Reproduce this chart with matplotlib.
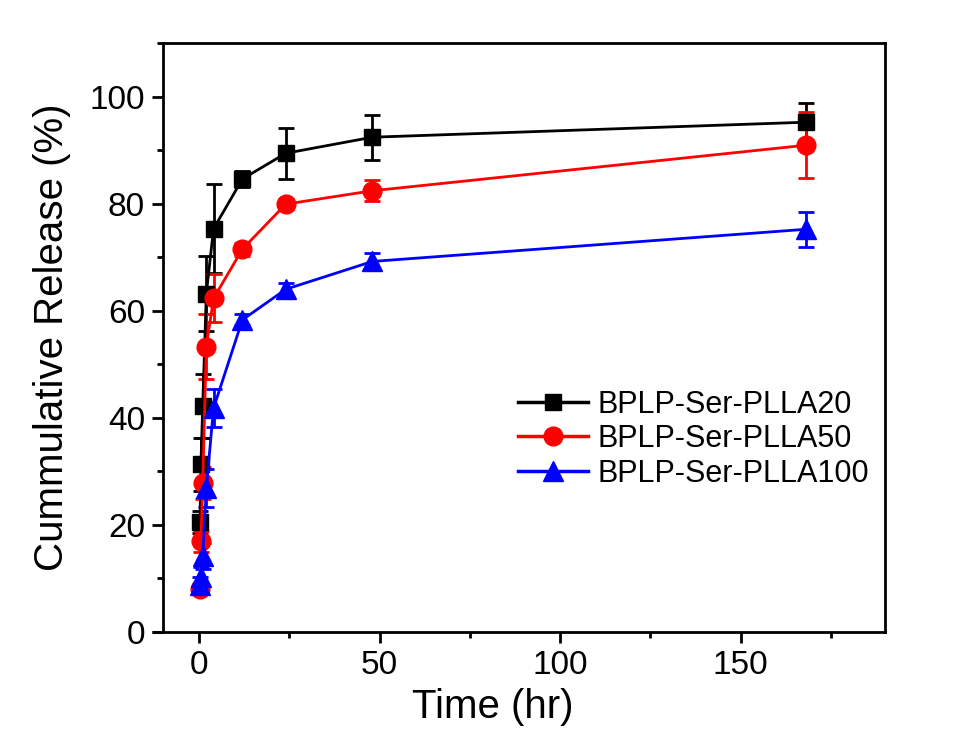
import matplotlib
matplotlib.use("Agg")
import matplotlib.pyplot as plt
from matplotlib.ticker import MultipleLocator
from matplotlib.lines import Line2D

plt.rcParams['font.family'] = ['Liberation Sans', 'DejaVu Sans']

time_hr = [0.25, 0.5, 1, 2, 4, 12, 24, 48, 168]

plla20 = [20.5, 31.3, 42.2, 63.2, 75.3, 84.6, 89.4, 92.4, 95.2]
plla20_err = [2.0, 5.0, 6.0, 7.0, 8.3, 1.5, 4.8, 4.2, 3.6]

plla50 = [8.0, 16.9, 27.8, 53.3, 62.3, 71.5, 79.9, 82.4, 90.9]
plla50_err = [1.0, 2.0, 3.0, 6.0, 4.5, 1.2, 1.0, 2.0, 6.2]

plla100 = [8.8, 10.2, 14.2, 26.9, 41.8, 58.3, 64.0, 69.2, 75.2]
plla100_err = [1.5, 2.0, 2.5, 3.5, 3.5, 1.0, 1.2, 1.5, 3.3]

labels = ['BPLP-Ser-PLLA20', 'BPLP-Ser-PLLA50', 'BPLP-Ser-PLLA100']

fig = plt.figure(figsize=(9.6, 7.37), dpi=100)
ax = fig.add_axes([0.1698, 0.1425, 0.9219 - 0.1698, 0.9417 - 0.1425])

series = [
    (plla20, plla20_err, 'black', 's', 12),
    (plla50, plla50_err, 'red', 'o', 13.5),
    (plla100, plla100_err, 'blue', '^', 14),
]
handles = []
for (vals, errs, col, mk, ms), lab in zip(series, labels):
    ax.errorbar(time_hr, vals, yerr=errs, color=col, marker=mk, markersize=ms,
                linewidth=2.0, elinewidth=2.0, capsize=6, capthick=2.0, label=lab)
    handles.append(Line2D([0], [0], color=col, marker=mk, markersize=ms, linewidth=2.5))

ax.set_xlim(-10, 190)
ax.set_ylim(0, 110)
ax.xaxis.set_major_locator(MultipleLocator(50))
ax.xaxis.set_minor_locator(MultipleLocator(25))
ax.yaxis.set_major_locator(MultipleLocator(20))
ax.yaxis.set_minor_locator(MultipleLocator(10))
ax.tick_params(which='major', direction='out', length=8, width=2, labelsize=24, pad=5)
ax.tick_params(which='minor', direction='out', length=4, width=2)
for s in ax.spines.values():
    s.set_linewidth(2)

# Origin-style bottom axis extension past the left spine
ax.plot([-13, -10], [0, 0], color='black', linewidth=2, clip_on=False, solid_capstyle='butt')

ax.set_xlabel('Time (hr)', fontsize=29)
ax.xaxis.set_label_coords(0.457, -0.095)
ax.set_ylabel('Cummulative Release (%)', fontsize=29, labelpad=13)

ax.legend(handles, labels, loc='upper left', bbox_to_anchor=(0.4917, 0.4115), frameon=False,
          fontsize=22, handlelength=2.3, handletextpad=0.3, labelspacing=0.15,
          borderaxespad=0, borderpad=0)

fig.savefig('out.png', dpi=100)
